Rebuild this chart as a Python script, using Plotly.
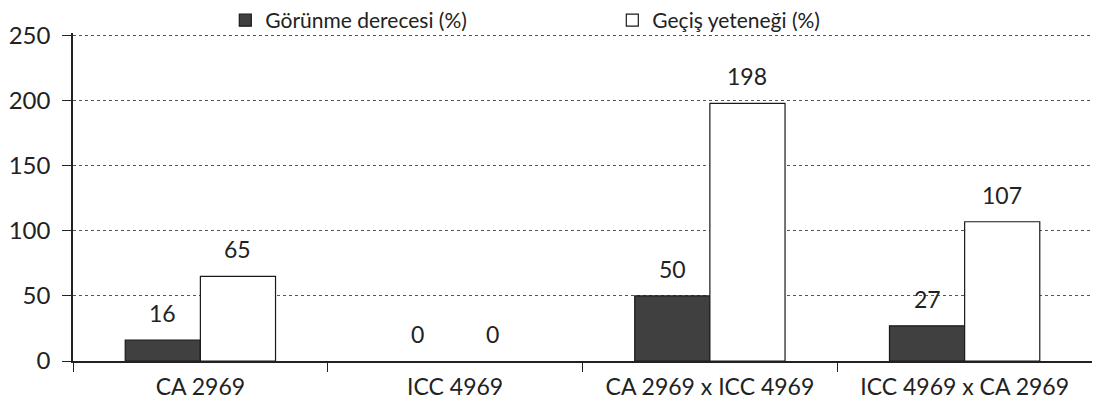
import plotly.graph_objects as go

categories = ["CA 2969", "ICC 4969", "CA 2969 x ICC 4969", "ICC 4969 x CA 2969"]
gorunme = [16, 0, 50, 27]
gecis = [65, 0, 198, 107]
series_names = ["Görünme derecesi (%)", "Geçiş yeteneği (%)"]
y_ticks = [0, 50, 100, 150, 200, 250]

FONT = "Lato"
W, H = 1092, 410
ML, MR, MT, MB = 65, 8, 25, 57
BARGAP = 0.41

fig = go.Figure()
for vals, name, color in [(gorunme, series_names[0], "#404040"),
                          (gecis, series_names[1], "white")]:
    fig.add_trace(go.Bar(
        x=categories, y=vals, name=name,
        marker=dict(color=color,
                    line=dict(color="#1a1a1a",
                              width=[1.2 if v > 0 else 0 for v in vals])),
    ))

# value labels placed above the bars via data coordinates
cat_px = (W - ML - MR) / len(categories)
bar_px = cat_px * (1 - BARGAP) / 2
for vals, sign in [(gorunme, -1), (gecis, 1)]:
    for c, v in zip(categories, vals):
        fig.add_annotation(
            x=c, y=v, text=str(v), showarrow=False,
            xshift=sign * bar_px / 2, yshift=27, yanchor="middle",
            font=dict(family=FONT, size=23, color="#222"),
        )

fig.update_layout(
    width=W, height=H,
    margin=dict(l=ML, r=MR, t=MT, b=MB, autoexpand=False),
    paper_bgcolor="white", plot_bgcolor="white",
    barmode="group", bargap=BARGAP, bargroupgap=0,
    font=dict(family=FONT, size=20, color="#222"),
    showlegend=True,
    legend=dict(
        orientation="h", xref="container", yref="paper",
        x=0.199, y=1.038, xanchor="left", yanchor="middle",
        entrywidth=342, entrywidthmode="pixels",
        font=dict(family=FONT, size=21, color="#222"),
        itemwidth=30, bgcolor="rgba(0,0,0,0)",
    ),
)
fig.update_yaxes(
    range=[0, 252], tickvals=y_ticks, ticks="outside", ticklen=9,
    tickcolor="#222", showline=True, linecolor="#222", linewidth=1.5,
    showgrid=True, gridcolor="#555", griddash="dot", gridwidth=1,
    zeroline=False, tickfont=dict(family=FONT, size=24, color="#222"),
    ticklabelstandoff=7,
)
fig.update_xaxes(
    showline=True, linecolor="#222", linewidth=1.5,
    ticks="outside", tickson="boundaries", ticklen=9, tickcolor="#222",
    tickfont=dict(family=FONT, size=23, color="#222"),
    ticklabelstandoff=5,
)
fig.write_html("out.html")
